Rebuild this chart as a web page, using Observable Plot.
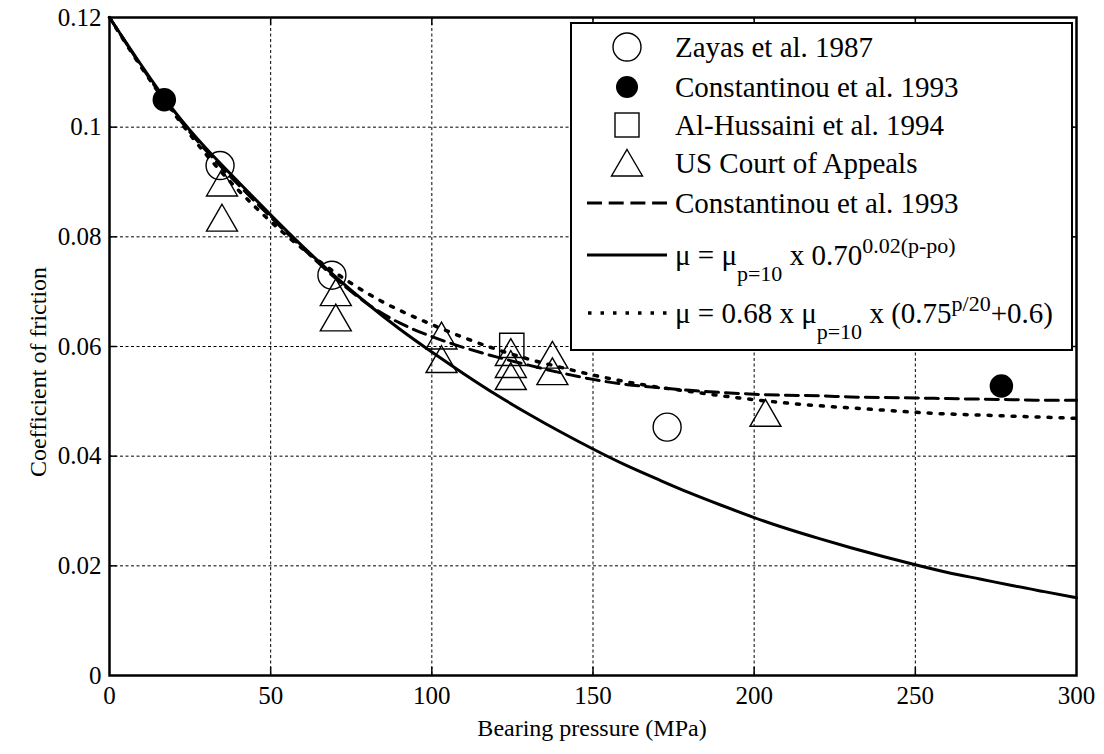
<!DOCTYPE html>
<html>
<head>
<meta charset="utf-8">
<script src="https://cdn.jsdelivr.net/npm/d3@7"></script>
<script src="https://cdn.jsdelivr.net/npm/@observablehq/plot@0.6"></script>
<style>
  body { margin: 0; background: #fff; }
  #wrap { position: relative; width: 1104px; height: 754px; font-family: "Liberation Serif", "Times New Roman", serif; color: #000; }
  #wrap svg { display: block; }
  .title { position: absolute; font-size: 24px; white-space: nowrap; line-height: 1; }
  #legend { position: absolute; left: 570px; top: 22px; width: 499px; height: 325px; border: 2.5px solid #000; background: #fff; }
  .row { position: absolute; left: 0; height: 40px; width: 495px; }
  .row svg { position: absolute; left: 15px; top: 0; }
  .row .lab { position: absolute; left: 103px; top: 0; line-height: 40px; font-size: 29px; white-space: nowrap; }
  .sub { position: relative; top: 16px; font-size: 22px; }
  .sup { position: relative; top: -12px; font-size: 22px; }
</style>
</head>
<body>
<div id="wrap"></div>
<script>
// ---------- data ----------
const xTicks = [0, 50, 100, 150, 200, 250, 300];
const yTicks = [0, 0.02, 0.04, 0.06, 0.08, 0.1, 0.12];

// Zayas et al. 1987 (open circles)
const zayasP  = [34.3, 69, 173];
const zayasMu = [0.093, 0.073, 0.0453];
// Constantinou et al. 1993 (filled circles)
const constP  = [17, 276.7];
const constMu = [0.105, 0.0528];
// Al-Hussaini et al. 1994 (square)
const hussP  = [124.8];
const hussMu = [0.0602];
// US Court of Appeals (triangles)
const courtP  = [34.9, 34.9, 70.2, 70.2, 103, 103, 124.5, 124.5, 124.5, 137.4, 137.4, 203.5];
const courtMu = [0.0899, 0.0835, 0.0699, 0.0653, 0.062, 0.0577, 0.059, 0.0568, 0.0546, 0.0585, 0.0555, 0.0479];

// curves, sampled every 10 MPa
const curveP = [0,10,20,30,40,50,60,70,80,90,100,110,120,130,140,150,160,170,180,190,200,210,220,230,240,250,260,270,280,290,300];
const dashedMu = [0.1200,0.1110,0.1027,0.0957,0.0895,0.0836,0.0779,0.0725,0.0678,0.0643,0.0618,0.0598,0.0581,0.0566,0.0552,0.0540,0.0531,0.0525,0.0520,0.0516,0.0513,0.0511,0.0510,0.0508,0.0507,0.0506,0.0505,0.0504,0.0503,0.0502,0.0502];
const solidMu  = [0.1200,0.1112,0.1030,0.0961,0.0900,0.0840,0.0782,0.0728,0.0678,0.0632,0.0590,0.0550,0.0512,0.0477,0.0444,0.0413,0.0384,0.0358,0.0333,0.0310,0.0288,0.0268,0.0250,0.0233,0.0217,0.0202,0.0188,0.0176,0.0164,0.0153,0.0142];
const dottedMu = [0.1200,0.1108,0.1025,0.0950,0.0885,0.0828,0.0778,0.0735,0.0697,0.0666,0.0640,0.0616,0.0595,0.0577,0.0562,0.0548,0.0536,0.0526,0.0518,0.0510,0.0503,0.0497,0.0492,0.0488,0.0484,0.0480,0.0477,0.0475,0.0473,0.0471,0.0469];

const xLabel = "Bearing pressure (MPa)";
const yLabel = "Coefficient of friction";
const legendLabels = ["Zayas et al. 1987", "Constantinou et al. 1993", "Al-Hussaini et al. 1994", "US Court of Appeals", "Constantinou et al. 1993"];
const formulaSolid  = [["μ = μ", ""], ["p=10", "sub"], [" x 0.70", ""], ["0.02(p-po)", "sup"]];
const formulaDotted = [["μ = 0.68 x μ", ""], ["p=10", "sub"], [" x (0.75", ""], ["p/20", "sup"], ["+0.6)", ""]];

// ---------- build ----------
const pts = (P, M) => P.map((p, i) => ({p, mu: M[i]}));
const curve = M => curveP.map((p, i) => ({p, mu: M[i]}));
const xD = [0, 300], yD = [0, 0.12];
const inner = xTicks.slice(1, -1), innerY = yTicks.slice(1, -1);
const tx = (xD[1] - xD[0]) * 0.008, ty = (yD[1] - yD[0]) * 0.012;
const fmt = d => String(d);

const chart = Plot.plot({
  width: 1104, height: 754,
  marginLeft: 109, marginRight: 28, marginTop: 17, marginBottom: 79,
  style: {fontFamily: "'Liberation Serif', 'Times New Roman', serif", fontSize: "25px", background: "white", color: "black"},
  x: {domain: xD},
  y: {domain: yD},
  marks: [
    Plot.ruleX(inner, {stroke: "black", strokeWidth: 1, strokeDasharray: "3,2.5"}),
    Plot.ruleY(innerY, {stroke: "black", strokeWidth: 1, strokeDasharray: "3,2.5"}),
    // inward ticks on all four sides
    Plot.ruleX(inner, {y1: yD[0], y2: yD[0] + ty, stroke: "black", strokeWidth: 1.5}),
    Plot.ruleX(inner, {y1: yD[1], y2: yD[1] - ty, stroke: "black", strokeWidth: 1.5}),
    Plot.ruleY(innerY, {x1: xD[0], x2: xD[0] + tx, stroke: "black", strokeWidth: 1.5}),
    Plot.ruleY(innerY, {x1: xD[1], x2: xD[1] - tx, stroke: "black", strokeWidth: 1.5}),
    // curves
    Plot.line(curve(dashedMu), {x: "p", y: "mu", stroke: "black", strokeWidth: 3, strokeDasharray: "13,7", curve: "natural"}),
    Plot.line(curve(solidMu), {x: "p", y: "mu", stroke: "black", strokeWidth: 3, curve: "natural"}),
    Plot.line(curve(dottedMu), {x: "p", y: "mu", stroke: "black", strokeWidth: 3.5, strokeDasharray: "3,9", curve: "natural"}),
    // markers
    Plot.dot(pts(zayasP, zayasMu), {x: "p", y: "mu", r: 14, stroke: "black", strokeWidth: 1.4, fill: "none"}),
    Plot.dot(pts(constP, constMu), {x: "p", y: "mu", r: 11, stroke: "black", fill: "black"}),
    Plot.dot(pts(hussP, hussMu), {x: "p", y: "mu", symbol: "square", r: 13.7, stroke: "black", strokeWidth: 1.4, fill: "none"}),
    Plot.dot(pts(courtP, courtMu), {x: "p", y: "mu", symbol: "triangle", r: 11.5, dy: 4.5, stroke: "black", strokeWidth: 1.4, fill: "none"}),
    Plot.frame({stroke: "black", strokeWidth: 2.5}),
    Plot.axisX(xTicks, {tickSize: 0, tickPadding: 11, label: null, tickFormat: fmt, fontSize: 25}),
    Plot.axisY(yTicks, {tickSize: 0, tickPadding: 8, label: null, tickFormat: fmt, fontSize: 25})
  ]
});

const wrap = document.getElementById("wrap");
wrap.appendChild(chart);

// axis titles
const xt = document.createElement("div");
xt.className = "title";
xt.textContent = xLabel;
xt.style.left = "592px"; xt.style.top = "728px";
xt.style.transform = "translate(-50%, -50%)";
wrap.appendChild(xt);

const yt = document.createElement("div");
yt.className = "title";
yt.textContent = yLabel;
yt.style.left = "38px"; yt.style.top = "372px";
yt.style.transform = "translate(-50%, -50%) rotate(-90deg)";
wrap.appendChild(yt);

// legend
const legend = document.createElement("div");
legend.id = "legend";
wrap.appendChild(legend);

const icons = [
  '<circle cx="40" cy="20" r="14" fill="none" stroke="#000" stroke-width="1.4"/>',
  '<circle cx="40" cy="20" r="11" fill="#000"/>',
  '<rect x="28" y="8" width="24" height="24" fill="none" stroke="#000" stroke-width="1.4"/>',
  '<path d="M40 6.5 L55.5 33 L24.5 33 Z" fill="none" stroke="#000" stroke-width="1.4"/>',
  '<line x1="0" y1="20" x2="80" y2="20" stroke="#000" stroke-width="3" stroke-dasharray="15,6.7"/>',
  '<line x1="0" y1="20" x2="80" y2="20" stroke="#000" stroke-width="3"/>',
  '<line x1="1" y1="20" x2="80" y2="20" stroke="#000" stroke-width="3.5" stroke-dasharray="3.5,9"/>'
];
const rowCenters = [22.7, 63.3, 101, 139.3, 179.3, 231, 289];
const formulaHTML = parts => parts.map(([t, c]) => c ? `<span class="${c}">${t}</span>` : t.replace(/ /g, "&nbsp;")).join("");
const labelsHTML = legendLabels.concat([formulaHTML(formulaSolid), formulaHTML(formulaDotted)]);
rowCenters.forEach((cy, i) => {
  const row = document.createElement("div");
  row.className = "row";
  row.style.top = (cy - 20) + "px";
  row.innerHTML = `<svg width="80" height="40" viewBox="0 0 80 40">${icons[i]}</svg><span class="lab">${labelsHTML[i]}</span>`;
  legend.appendChild(row);
});
</script>
</body>
</html>
